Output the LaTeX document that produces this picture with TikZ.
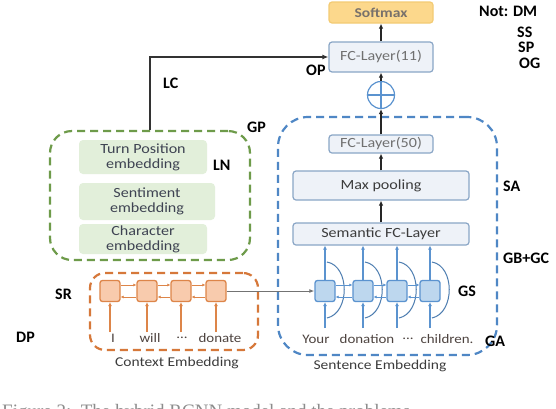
\documentclass[tikz,border=0pt]{standalone}
\usepackage{fontspec}
\setmainfont{Carlito}
\newfontfamily\boxfont[FakeStretch=1.15]{Carlito}
\newfontfamily\capfont{Liberation Serif}
\usetikzlibrary{arrows.meta,calc}
\definecolor{bluereg}{HTML}{4F87C5}
\definecolor{bluecell}{HTML}{BDD7EE}
\definecolor{bluecellb}{HTML}{5B93CF}
\definecolor{orangereg}{HTML}{D6783A}
\definecolor{orangecell}{HTML}{F8CBAD}
\definecolor{orangecellb}{HTML}{DD8549}
\definecolor{greenreg}{HTML}{6E9B4A}
\definecolor{greenbox}{HTML}{E2EFDA}
\definecolor{boxfill}{HTML}{EEF2F8}
\definecolor{boxline}{HTML}{8AA6C6}
\definecolor{softfill}{HTML}{FCD88C}
\definecolor{softline}{HTML}{F3CB74}
\definecolor{greytext}{HTML}{707070}
\definecolor{darktext}{HTML}{3C3C3C}
\definecolor{wordtext}{HTML}{4E4440}
\definecolor{greentext}{HTML}{3E4352}
\tikzset{
  boxstyle/.style={draw=boxline, fill=boxfill, rounded corners=3pt, line width=1.2pt, inner sep=0pt,
    font=\boxfont\fontsize{14}{15}\selectfont},
  softbox/.style={draw=softline, fill=softfill, rounded corners=3pt, line width=1.2pt, inner sep=0pt,
    font=\boxfont\bfseries\fontsize{13.5}{15}\selectfont, text=greytext!90!brown},
  gbox/.style={fill=greenbox, rounded corners=4pt, inner sep=0pt, align=center, text=greentext,
    font=\boxfont\fontsize{14}{15}\selectfont},
  blk/.style={line width=1.8pt, draw=black!85, -{Latex[length=5pt,width=4.5pt]}},
  lcline/.style={line width=2pt, draw=black!80, -{Latex[length=6pt,width=5pt]}},
  bcell/.style={draw=bluecellb, fill=bluecell, rounded corners=2.5pt, line width=1.3pt, minimum width=20pt, minimum height=21pt, inner sep=0pt},
  ocell/.style={draw=orangecellb, fill=orangecell, rounded corners=2.5pt, line width=1.3pt, minimum width=20pt, minimum height=21pt, inner sep=0pt},
  barrow/.style={line width=1.6pt, draw=bluecellb, -{Latex[length=4pt,width=4pt]}},
  bthin/.style={line width=0.9pt, draw=bluecellb, -{Latex[length=3pt,width=3pt]}},
  barc/.style={line width=1pt, draw=bluecellb!85!black},
  oarrow/.style={line width=1.6pt, draw=orangecellb, -{Latex[length=4pt,width=4pt]}},
  othin/.style={line width=0.9pt, draw=orangecellb, -{Latex[length=3pt,width=3pt]}},
  garrow/.style={line width=1pt, draw=black!55, -{Latex[length=5pt,width=4pt]}},
  region/.style={dashed, line width=2.2pt, dash pattern=on 8pt off 5pt, inner sep=0pt},
  word/.style={text=wordtext, font=\boxfont\fontsize{13}{14}\selectfont, inner sep=0pt},
  capt/.style={text=darktext, font=\boxfont\fontsize{13.5}{14}\selectfont, inner sep=0pt},
  lbl/.style={text=black, font=\bfseries\fontsize{16}{16}\selectfont, inner sep=0pt, anchor=west},
}
\begin{document}
\begin{tikzpicture}[x=1pt,y=-1pt]
\useasboundingbox[fill=white] (0,0) rectangle (556,408);

% regions
\node[region, draw=greenreg, rounded corners=22pt, minimum width=200pt, minimum height=129pt] (gp) at (150,195.5) {};
\node[region, draw=bluereg, rounded corners=30pt, minimum width=219pt, minimum height=238pt] (sa) at (387.5,236) {};
\node[region, draw=orangereg, rounded corners=15pt, minimum width=168pt, minimum height=77pt] (dp) at (174,311.5) {};

% right column
\node[softbox, minimum width=104pt, minimum height=21pt] (soft) at (381,12.5) {Softmax};
\node[boxstyle, minimum width=104pt, minimum height=30pt, text=greytext] (fc11) at (381,57) {FC-Layer(11)};
\node[circle, draw=bluecellb, line width=1.2pt, minimum size=27pt, inner sep=0pt] (plus) at (381,95) {};
\draw[bluecellb, line width=1.2pt] (plus.north) -- (plus.south) (plus.west) -- (plus.east);
\node[boxstyle, minimum width=104pt, minimum height=18pt, text=greytext] (fc50) at (381,144) {FC-Layer(50)};
\node[boxstyle, minimum width=176pt, minimum height=29pt, text=darktext] (maxp) at (381,185.5) {Max pooling};
\node[boxstyle, minimum width=176pt, minimum height=22pt, text=darktext] (sem) at (381,234) {Semantic FC-Layer};

\draw[blk] (sem.north) -- (maxp.south);
\draw[blk] (maxp.north) -- (fc50.south);
\draw[blk] (fc50.north) -- (plus.south);
\draw[blk] (plus.north) -- (fc11.south);
\draw[blk] (fc11.north) -- (soft.south);

% green boxes
\node[gbox, minimum width=128pt, minimum height=34pt] (tp) at (143,157) {Turn Position\\embedding};
\node[gbox, minimum width=136pt, minimum height=37pt] (se) at (147,201.5) {Sentiment\\embedding};
\node[gbox, minimum width=128pt, minimum height=30pt] (ch) at (143,239) {Character\\embedding};

\draw[lcline] (gp.north) |- (fc11.west);

% blue cells
\foreach \i/\x in {1/325,2/363,3/397,4/430} {
  \node[bcell] (b\i) at (\x,291) {};
  \coordinate (bi\i) at (\x,328);
  \draw[barrow] (b\i.north) -- (b\i.north |- sem.south);
  \draw[barrow] (bi\i) -- (b\i.south);
  \draw[barc] ($(b\i)+(2,-29)$) .. controls ($(b\i)+(25,-25)$) and ($(b\i)+(25,22)$) .. ($(b\i)+(2,27)$);
}
\foreach \a/\b in {1/2,2/3,3/4} {
  \draw[bthin] ([yshift=6pt]b\a.east) -- ([yshift=6pt]b\b.west);
  \draw[bthin] ([yshift=-6pt]b\b.west) -- ([yshift=-6pt]b\a.east);
}

% orange cells
\foreach \i/\x in {1/110,2/147,3/181,4/216} {
  \node[ocell] (o\i) at (\x,291) {};
  \coordinate (oi\i) at (\x,332);
  \draw[oarrow] (oi\i) -- (o\i.south);
}
\foreach \a/\b in {1/2,2/3,3/4} {
  \draw[othin] ([yshift=6pt]o\a.east) -- ([yshift=6pt]o\b.west);
  \draw[othin] ([yshift=-6pt]o\b.west) -- ([yshift=-6pt]o\a.east);
}
\draw[garrow] (o4.east) -- (b1.west);

% words
\node[word] (w1) at (113,338) {I};
\node[word] (w2) at (150,338) {will};
\node[word] (w3) at (182,338) {...};
\node[word] (w4) at (220,338) {donate};
\node[word] (s1) at (316,339) {Your};
\node[word] (s2) at (367,339) {donation};
\node[word] (s3) at (408,339) {...};
\node[word] (s4) at (447,339) {children.};
\node[capt] (ce) at (177,363) {Context Embedding};
\node[capt] (sentemb) at (380,366) {Sentence Embedding};

% labels
\node[lbl] (lLC) at (163,83) {LC};
\node[lbl] (lOP) at (306,70) {OP};
\node[lbl] (lGP) at (247,127) {GP};
\node[lbl] (lNot) at (479,11) {Not: DM};
\node[lbl] (lSS) at (517,32) {SS};
\node[lbl] (lSP) at (518,47) {SP};
\node[lbl] (lOG) at (519,63) {OG};
\node[lbl] (lSA) at (503,186) {SA};
\node[lbl] (lGB) at (503,258) {GB+GC};
\node[lbl] (lGS) at (458,291) {GS};
\node[lbl] (lGA) at (485,341) {GA};
\node[lbl] (lLN) at (213,165) {LN};
\node[lbl] (lSR) at (55,294) {SR};
\node[lbl] (lDP) at (16,337) {DP};

% cut caption
\node[anchor=north west, inner sep=0pt, text=black!45, font=\capfont\fontsize{19}{20}\selectfont] (figcap) at (2,404) {Figure 2:\ \ The hybrid RCNN model and the problems};
\end{tikzpicture}
\end{document}
